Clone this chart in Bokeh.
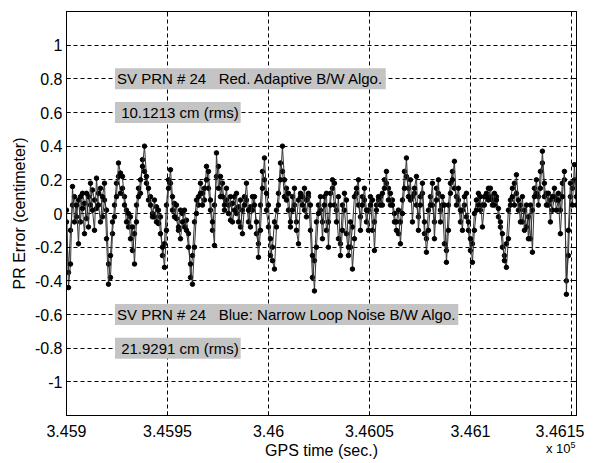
import numpy as np
from bokeh.plotting import figure
from bokeh.layouts import column
from bokeh.models import FixedTicker, Label, LinearAxis, Range1d, Div
from bokeh.embed import file_html
from bokeh.resources import INLINE

# ---- data ----
t_start = 345900.0
t_step = 0.99
# error series drawn with dark markers (two overlaid algorithm traces)
pr_error_a = [
    0.02, -0.44, -0.30, 0.16, -0.05, 0.05, -0.18, 0.10, 0.03, -0.12,
    0.12, -0.08, 0.18, 0.02, -0.10, 0.21, 0.05, -0.05, 0.10, 0.18,
    -0.15, -0.42, -0.25, -0.05, -0.02, 0.10, 0.30, 0.24, 0.22, 0.05,
    -0.05, 0.00, -0.15, -0.08, -0.30, -0.05, 0.10, 0.20, 0.28, 0.40,
    0.22, 0.15, 0.05, -0.02, 0.08, -0.05, 0.02, -0.12, -0.20, -0.32,
    -0.10, 0.15, 0.26, 0.10, -0.02, 0.05, -0.08, -0.15, -0.05, 0.02,
    -0.10, -0.20, -0.30, -0.42, -0.20, 0.00, 0.10, 0.12, 0.05, 0.15,
    0.20, 0.25, 0.08, -0.05, -0.19, 0.36, 0.15, 0.22, 0.10, 0.05,
    0.15, 0.00, 0.10, -0.05, 0.02, 0.12, -0.05, 0.08, -0.12, 0.05,
    0.18, 0.02, -0.08, 0.10, 0.05, -0.05, -0.26, -0.10, 0.15, 0.33,
    0.12, 0.05, -0.15, -0.28, -0.33, -0.08, 0.05, 0.20, 0.40, 0.20,
    0.08, 0.12, -0.05, 0.02, 0.15, -0.10, -0.18, 0.10, 0.05, 0.15,
    -0.02, 0.12, 0.05, -0.25, -0.46, -0.20, 0.00, 0.10, -0.15, 0.05,
    0.12, -0.20, 0.05, 0.20, 0.18, -0.05, 0.10, -0.25, -0.10, 0.12,
    0.08, -0.20, -0.05, -0.33, -0.15, 0.15, 0.20, -0.10, 0.05, 0.15,
    0.02, -0.10, 0.05, 0.08, -0.22, 0.02, 0.10, 0.05, 0.12, 0.15,
    0.25, 0.08, 0.12, 0.05, -0.05, -0.05, 0.02, -0.18, 0.00, 0.15,
    0.33, 0.10, 0.20, -0.05, 0.15, 0.22, -0.10, 0.05, 0.18, -0.05,
    -0.23, -0.10, 0.05, 0.18, -0.15, 0.08, 0.20, -0.05, 0.10, 0.05,
    -0.29, -0.10, 0.12, 0.20, 0.31, 0.05, 0.15, 0.02, -0.10, 0.10,
    0.12, -0.05, -0.15, -0.29, -0.10, 0.02, 0.05, 0.10, -0.08, 0.05,
    0.10, 0.08, 0.15, 0.05, 0.12, 0.08, 0.03, -0.05, -0.12, -0.28,
    -0.32, -0.15, 0.05, 0.10, 0.05, 0.23, 0.08, -0.05, 0.10, -0.10,
    0.05, -0.15, 0.05, -0.23, 0.10, 0.20, 0.05, 0.15, 0.37, 0.18,
    0.05, 0.12, -0.05, 0.10, 0.15, 0.02, 0.08, -0.12, 0.10, 0.25,
    -0.48, -0.10, 0.18, 0.05, 0.29, 0.10,
]
pr_error_b = [
    -0.05, -0.35, -0.10, 0.05, 0.10, -0.02, 0.08, -0.05, 0.12, 0.06,
    -0.03, 0.10, 0.05, 0.14, 0.08, 0.03, 0.12, 0.15, -0.02, 0.08,
    0.02, -0.30, -0.38, -0.12, 0.05, 0.18, 0.22, 0.12, 0.15, 0.10,
    0.02, -0.08, -0.02, -0.22, -0.12, 0.05, 0.15, 0.12, 0.32, 0.25,
    0.18, 0.08, 0.10, 0.00, -0.02, 0.04, -0.06, -0.02, -0.25, -0.18,
    0.05, 0.20, 0.18, 0.02, 0.06, -0.03, -0.10, 0.02, 0.00, -0.08,
    -0.04, -0.12, -0.38, -0.25, -0.05, 0.08, 0.05, 0.18, 0.12, 0.08,
    0.28, 0.15, 0.02, -0.10, 0.05, 0.22, 0.28, 0.10, 0.18, 0.02,
    0.08, 0.05, -0.04, 0.06, 0.10, 0.00, 0.04, -0.08, 0.02, 0.10,
    0.08, -0.05, 0.04, 0.02, 0.10, -0.12, -0.18, 0.05, 0.25, 0.20,
    0.02, -0.08, -0.25, -0.20, -0.05, 0.02, 0.12, 0.30, 0.25, 0.10,
    0.15, 0.02, -0.08, 0.10, 0.05, -0.05, 0.08, 0.12, 0.10, 0.02,
    0.08, 0.10, -0.10, -0.38, -0.28, -0.05, 0.05, 0.02, -0.05, 0.10,
    -0.10, -0.05, 0.12, 0.15, 0.05, 0.02, -0.15, -0.18, 0.05, 0.02,
    -0.12, -0.25, -0.20, -0.08, 0.10, 0.12, 0.05, -0.02, 0.10, 0.08,
    -0.05, 0.02, 0.10, -0.10, -0.05, 0.05, 0.08, 0.10, 0.05, 0.20,
    0.18, 0.15, 0.05, 0.08, 0.00, -0.10, -0.12, -0.05, 0.08, 0.25,
    0.22, 0.15, 0.08, 0.10, 0.12, 0.05, -0.02, 0.10, 0.12, -0.12,
    -0.15, 0.02, 0.10, 0.05, -0.05, 0.15, 0.12, 0.02, 0.05, -0.18,
    -0.22, 0.05, 0.18, 0.25, 0.15, 0.10, 0.08, -0.05, 0.02, 0.05,
    -0.02, -0.10, -0.22, -0.18, 0.00, 0.08, 0.12, 0.02, 0.05, 0.10,
    0.12, 0.15, 0.10, 0.08, 0.05, 0.10, -0.02, -0.08, -0.20, -0.25,
    -0.18, 0.02, 0.08, 0.15, 0.18, 0.12, 0.02, 0.05, -0.05, 0.02,
    -0.08, -0.02, -0.15, 0.02, 0.15, 0.12, 0.10, 0.25, 0.30, 0.10,
    0.12, 0.05, 0.08, 0.02, 0.10, 0.08, 0.12, 0.02, 0.18, 0.20,
    -0.40, -0.25, 0.10, 0.15, 0.20, 0.05,
]
times = [t_start + i * t_step for i in range(len(pr_error_a))]

x_ticks = [345900, 345950, 346000, 346050, 346100, 346150]
x_tick_labels = ["3.459", "3.4595", "3.46", "3.4605", "3.461", "3.4615"]
y_ticks = [-1.0, -0.8, -0.6, -0.4, -0.2, 0.0, 0.2, 0.4, 0.6, 0.8, 1.0]
y_tick_labels = ["-1", "-0.8", "-0.6", "-0.4", "-0.2", "0", "0.2", "0.4", "0.6", "0.8", "1"]

NB = "\u00a0"
annotations = [
    ("SV PRN # 24" + NB * 3 + "Red. Adaptive B/W Algo.", 0.8),
    (NB + "10.1213 cm (rms)", 0.6),
    ("SV PRN # 24" + NB * 3 + "Blue: Narrow Loop Noise B/W Algo.", -0.6),
    (NB + "21.9291 cm (rms)", -0.8),
]

FONT = "Liberation Sans"

p = figure(frame_width=510, frame_height=404, output_backend="svg",
           toolbar_location=None,
           x_range=Range1d(345900, 346152.5), y_range=Range1d(-1.2, 1.2),
           min_border_left=66, min_border_right=8, min_border_top=11,
           min_border_bottom=40, background_fill_color="white",
           border_fill_color="white")
p.outline_line_color = "black"
p.outline_line_width = 1

# grid
for g in (p.xgrid, p.ygrid):
    g.grid_line_color = "black"
    g.grid_line_dash = "4 3"
    g.grid_line_width = 1
p.xgrid.ticker = FixedTicker(ticks=x_ticks)
p.ygrid.ticker = FixedTicker(ticks=y_ticks)

# axes
xa = p.xaxis[0]
xa.ticker = FixedTicker(ticks=x_ticks)
xa.major_label_overrides = {t: l for t, l in zip(x_ticks, x_tick_labels)}
xa.axis_label = "GPS time (sec.)"
ya = p.yaxis[0]
ya.ticker = FixedTicker(ticks=y_ticks)
ya.major_label_overrides = {t: l for t, l in zip(y_ticks, y_tick_labels)}
ya.axis_label = "PR Error (centimeter)"
for ax in (xa, ya):
    ax.major_tick_in = 4
    ax.major_tick_out = 0
    ax.minor_tick_line_color = None
    ax.axis_line_color = "black"
    ax.major_tick_line_color = "black"
    ax.major_label_text_font = FONT
    ax.major_label_text_font_size = "16px"
    ax.major_label_text_color = "black"
    ax.axis_label_text_font = FONT
    ax.axis_label_text_font_size = "16px"
    ax.axis_label_text_font_style = "normal"
    ax.axis_label_text_color = "black"
xa.major_label_standoff = 9
xa.axis_label_standoff = 2
ya.major_label_standoff = 4
ya.axis_label_standoff = 4

# mirror ticks on top and right
xt = LinearAxis(ticker=FixedTicker(ticks=x_ticks),
                major_label_overrides={t: "" for t in x_ticks},
                major_tick_in=4, major_tick_out=0, minor_tick_line_color=None)
yr = LinearAxis(ticker=FixedTicker(ticks=y_ticks),
                major_label_overrides={t: "" for t in y_ticks},
                major_tick_in=4, major_tick_out=0, minor_tick_line_color=None)
p.add_layout(xt, "above")
p.add_layout(yr, "right")

# data
for series in (pr_error_b, pr_error_a):
    p.line(times, series, line_color="#333333", line_width=1)
    p.scatter(times, series, size=4.5, fill_color="black", line_color="black")

# text boxes
for txt, yv in annotations:
    p.add_layout(Label(x=345924.0, y=yv, text=txt, text_font=FONT,
                       text_font_size="15px", text_color="black",
                       text_baseline="middle",
                       background_fill_color="#c4c4c4",
                       background_fill_alpha=1.0,
                       padding=2))

# exponent of the x axis (placed just under the axis, at the right)
expo = Div(text="x 10<sup style='font-size:9px; line-height:0'>5</sup>",
           width=44, height=18, margin=(-21, 0, 0, 546),
           styles={"font-family": FONT, "font-size": "13px", "color": "black",
                   "line-height": "18px", "overflow": "visible"})

layout = column(p, expo, spacing=0)
open("out.html", "w").write(file_html(layout, INLINE))
